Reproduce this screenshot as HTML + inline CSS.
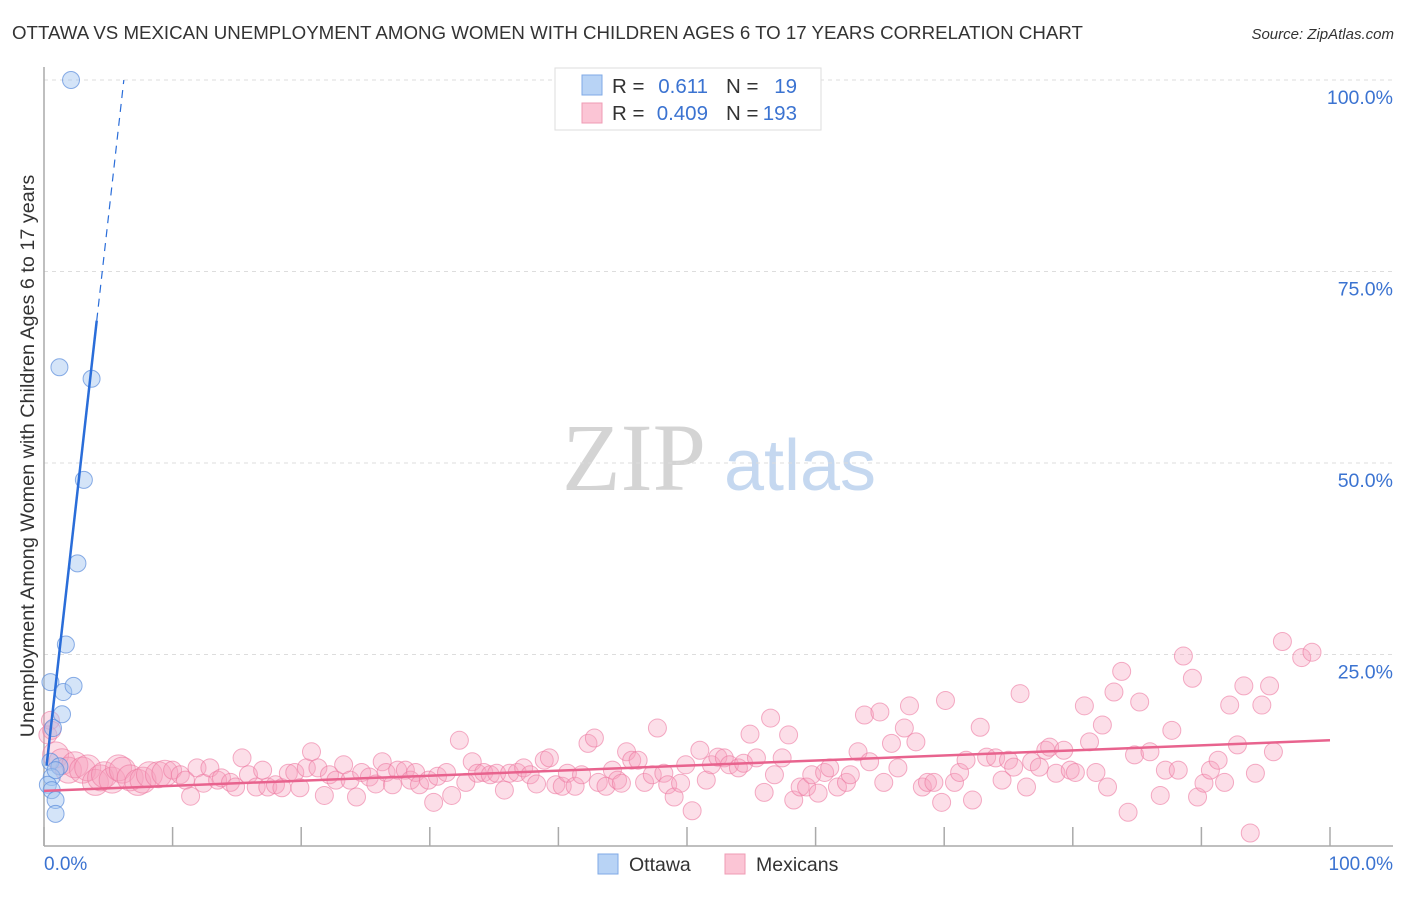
<!DOCTYPE html>
<html><head><meta charset="utf-8"><style>
html,body{margin:0;padding:0;background:#fff;}
body{width:1406px;height:892px;overflow:hidden;font-family:"Liberation Sans",sans-serif;}
</style></head><body>
<svg id="chart" width="1406" height="892" viewBox="0 0 1406 892" xmlns="http://www.w3.org/2000/svg">
<text x="12" y="39" font-size="18.7" fill="#333">OTTAWA VS MEXICAN UNEMPLOYMENT AMONG WOMEN WITH CHILDREN AGES 6 TO 17 YEARS CORRELATION CHART</text>
<text x="1394" y="39" font-size="15" fill="#333" font-style="italic" text-anchor="end">Source: ZipAtlas.com</text>
<g>
<text x="634" y="490" font-size="96" fill="#d4d4d4" font-family="Liberation Serif,serif" text-anchor="middle">ZIP</text>
<text x="800" y="490" font-size="72" fill="#c5d8f0" text-anchor="middle">atlas</text>
</g>
<g id="grid"></g>
<g id="axes"></g>
<g id="pts"></g>
<g id="lines"></g>
<text transform="translate(34,456) rotate(-90)" font-size="19.8" fill="#333" text-anchor="middle">Unemployment Among Women with Children Ages 6 to 17 years</text>
<g>
<rect x="555" y="68" width="266" height="62" fill="#fff" stroke="#ddd"/>
<rect x="582" y="75" width="20" height="20" fill="#b8d3f5" stroke="#7fa9e6"/>
<rect x="582" y="103" width="20" height="20" fill="#fbc5d5" stroke="#ef9bb4"/>
<text x="612" y="93" font-size="20.5" fill="#333">R =</text>
<text x="708" y="93" font-size="20.5" fill="#3b73d1" text-anchor="end">0.611</text>
<text x="726" y="93" font-size="20.5" fill="#333">N =</text>
<text x="797" y="93" font-size="20.5" fill="#3b73d1" text-anchor="end">19</text>
<text x="612" y="120" font-size="20.5" fill="#333">R =</text>
<text x="708" y="120" font-size="20.5" fill="#3b73d1" text-anchor="end">0.409</text>
<text x="726" y="120" font-size="20.5" fill="#333">N =</text>
<text x="797" y="120" font-size="20.5" fill="#3b73d1" text-anchor="end">193</text>
</g>
<g>
<rect x="598" y="854" width="20" height="20" fill="#b8d3f5" stroke="#7fa9e6"/>
<text x="629" y="871" font-size="19.5" fill="#333">Ottawa</text>
<rect x="725" y="854" width="20" height="20" fill="#fbc5d5" stroke="#ef9bb4"/>
<text x="756" y="871" font-size="19.5" fill="#333">Mexicans</text>
</g>
</svg>
<script>
const yTicks=[25,50,75,100];
const yTickLabels=["25.0%","50.0%","75.0%","100.0%"];
const xTicks=[0,10,20,30,40,50,60,70,80,90,100];
const ottawaX=[2.1,1.2,3.7,3.1,2.6,1.7,0.5,1.5,2.3,1.4,0.7,0.5,1.2,0.6,0.3,0.6,0.9,0.9,0.9];
const ottawaY=[100,62.5,61.0,47.8,36.9,26.3,21.4,20.1,20.9,17.2,15.4,11.0,10.4,9.0,8.0,7.3,6.0,4.2,9.9];
const mexX=[0.3,0.5,0.6,0.9,1.4,1.9,2.4,3.0,3.4,4.0,4.4,4.7,5.3,5.8,6.1,6.7,7.3,7.7,8.2,8.9,9.4,10.0,10.6,11.0,11.4,11.9,12.4,12.9,13.5,13.8,14.5,14.9,15.4,15.9,16.5,17.0,17.4,18.0,18.5,19.0,19.5,19.9,20.4,20.8,21.3,21.8,22.2,22.7,23.3,23.8,24.3,24.7,25.3,25.8,26.3,26.6,27.1,27.5,28.1,28.5,28.9,29.2,29.9,30.3,30.6,31.3,31.7,32.3,32.8,33.3,33.7,34.2,34.7,35.2,35.8,36.2,36.8,37.3,37.8,38.3,38.9,39.3,39.8,40.3,40.7,41.3,41.8,42.3,42.8,43.1,43.7,44.2,44.6,44.9,45.3,45.7,46.2,46.7,47.3,47.7,48.2,48.5,49.0,49.5,49.9,50.4,51.0,51.5,51.9,52.4,52.9,53.3,54.0,54.4,54.9,55.4,56.0,56.5,56.8,57.4,57.9,58.3,58.8,59.3,59.7,60.2,60.7,61.1,61.7,62.4,62.7,63.3,63.8,64.2,65.0,65.3,65.9,66.4,66.9,67.3,67.8,68.3,68.7,69.2,69.8,70.1,70.8,71.2,71.7,72.2,72.8,73.3,74.0,74.5,75.0,75.4,75.9,76.4,76.8,77.4,77.9,78.2,78.7,79.3,79.8,80.2,80.9,81.3,81.8,82.3,82.7,83.2,83.8,84.3,84.8,85.2,86.0,86.8,87.2,87.7,88.2,88.6,89.3,89.7,90.2,90.7,91.3,91.8,92.2,92.8,93.3,93.8,94.2,94.7,95.3,95.6,96.3,97.8,98.6];
const mexY=[14.5,16.4,15.1,11.9,11.0,9.9,10.6,9.9,10.2,8.3,8.9,9.3,8.6,10.2,9.9,8.9,8.3,8.6,9.3,9.3,9.5,9.9,9.3,8.6,6.5,10.2,8.2,10.2,8.6,8.9,8.3,7.7,11.5,9.3,7.7,9.9,7.7,8.0,7.6,9.5,9.6,7.6,10.2,12.3,10.2,6.6,9.3,8.6,10.6,8.6,6.4,9.6,9.0,8.1,11.0,9.6,8.0,9.9,9.9,8.6,9.6,8.0,8.6,5.7,9.1,9.6,6.6,13.8,8.3,11.0,9.5,9.6,9.3,9.5,7.3,9.5,9.6,10.2,9.3,8.1,11.2,11.5,8.0,7.8,9.5,7.8,9.3,13.4,14.1,8.3,7.8,9.9,8.6,8.2,12.3,11.2,11.2,8.3,9.3,15.4,9.5,8.0,6.4,8.2,10.6,4.6,12.5,8.6,10.6,11.6,11.5,10.6,10.2,10.8,14.6,11.5,7.0,16.7,9.3,11.5,14.5,6.0,7.7,7.7,9.3,6.9,9.6,10.2,7.7,8.3,9.3,12.3,17.1,11.0,17.5,8.3,13.4,10.2,15.4,18.3,13.6,7.7,8.3,8.3,5.7,19.0,8.3,9.6,11.2,6.0,15.5,11.6,11.5,8.6,11.2,10.3,19.9,7.7,11.0,10.3,12.5,12.9,9.5,12.5,9.9,9.6,18.3,13.6,9.6,15.8,7.7,20.1,22.8,4.4,11.9,18.8,12.3,6.6,9.9,15.1,9.9,24.8,21.9,6.4,8.2,9.9,11.2,8.3,18.4,13.2,20.9,1.7,9.5,18.4,20.9,12.3,26.7,24.6,25.3];
const ottawaTrend=[7.5,14.9]; // intercept, slope
const mexTrend=[7.2,13.8]; // y at x=0, y at x=100

const NS="http://www.w3.org/2000/svg";
const X=v=>44+v*12.86;
const Y=v=>846-v*7.66;
function mk(tag,attrs,parent){const e=document.createElementNS(NS,tag);for(const k in attrs)e.setAttribute(k,attrs[k]);parent.appendChild(e);return e;}
const grid=document.getElementById('grid'),axes=document.getElementById('axes'),pts=document.getElementById('pts'),lines=document.getElementById('lines');
yTicks.forEach((t,i)=>{
  const l=mk('line',{x1:44,x2:1393,y1:Y(t),y2:Y(t),stroke:'#ddd','stroke-dasharray':'4,4'},grid);
  
  
  const tx=mk('text',{x:1393,y:Y(t)+24,'font-size':19.5,fill:'#3b73d1','text-anchor':'end'},axes);
  tx.textContent=yTickLabels[i];
  
  
});
const ax=mk('line',{x1:44,x2:44,y1:67,y2:846,stroke:'#aaa','stroke-width':1.5},axes);


const bx=mk('line',{x1:44,x2:1393,y1:846,y2:846,stroke:'#aaa','stroke-width':1.5},axes);


xTicks.forEach(t=>{
  const l=mk('line',{x1:X(t),x2:X(t),y1:827,y2:846,stroke:'#aaa','stroke-width':1.5},axes);
  
  
});
const xl0=mk('text',{x:44,y:870,'font-size':19,fill:'#3b73d1'},axes);xl0.textContent='0.0%';


const xl1=mk('text',{x:1393,y:870,'font-size':19,fill:'#3b73d1','text-anchor':'end'},axes);xl1.textContent='100.0%';


mexX.forEach((v,i)=>{
  const r=(v<10&&mexY[i]>8&&mexY[i]<12)?13:9;
  const c=mk('circle',{cx:X(v),cy:Y(mexY[i]),r:r,fill:'rgba(247,160,188,0.35)',stroke:'rgba(236,120,160,0.6)','stroke-width':1},pts);
  
  
});
ottawaX.forEach((v,i)=>{
  const c=mk('circle',{cx:X(v),cy:Y(ottawaY[i]),r:8.5,fill:'rgba(160,196,240,0.45)',stroke:'rgba(90,140,220,0.7)','stroke-width':1},pts);
  
  
});
const oSolidEnd=4.1, oDashEnd=(100-ottawaTrend[0])/ottawaTrend[1];
const o1=mk('line',{x1:X(0.2),y1:Y(ottawaTrend[0]+ottawaTrend[1]*0.2),x2:X(oSolidEnd),y2:Y(ottawaTrend[0]+ottawaTrend[1]*oSolidEnd),stroke:'#2a6dd9','stroke-width':2.5},lines);


const o2=mk('line',{x1:X(oSolidEnd),y1:Y(ottawaTrend[0]+ottawaTrend[1]*oSolidEnd),x2:X(oDashEnd),y2:Y(100),stroke:'#2a6dd9','stroke-width':1.2,'stroke-dasharray':'8,6'},lines);


const m1=mk('line',{x1:X(0),y1:Y(mexTrend[0]),x2:X(100),y2:Y(mexTrend[1]),stroke:'#e8638e','stroke-width':2.5},lines);


</script>
</body></html>
